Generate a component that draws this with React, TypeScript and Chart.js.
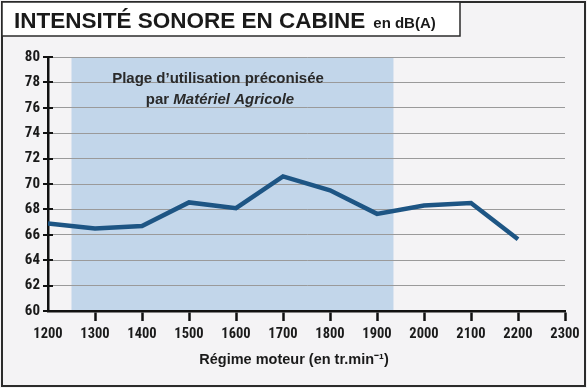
import React, { useEffect, useRef } from "react";
import { Chart, registerables } from "chart.js";

Chart.register(...registerables);

const rpm = [1200, 1300, 1400, 1500, 1600, 1700, 1800, 1900, 2000, 2100, 2200];
const dbA = [66.9, 66.5, 66.7, 68.55, 68.1, 70.6, 69.5, 67.65, 68.3, 68.5, 65.65];
const rangeStart = 1250;
const rangeEnd = 1935;
const titleMain = "INTENSITÉ SONORE EN CABINE";
const titleUnit = "en dB(A)";
const xTitle = "Régime moteur (en tr.min⁻¹)";
const noteLine1 = "Plage d’utilisation préconisée";
const noteLine2a = "par ";
const noteLine2b = "Matériel Agricole";

const W = 587;
const H = 388;
const FONT = "'Liberation Sans', 'Helvetica', Arial, sans-serif";
const NARROW = "'Roboto Condensed', 'DejaVu Sans Condensed', 'Liberation Sans', sans-serif";

const decor = {
  id: "decor",
  beforeDraw(chart: any) {
    const { ctx, chartArea, scales } = chart;
    ctx.save();
    ctx.fillStyle = "#f4f3f5";
    ctx.fillRect(0, 0, W, H);
    const x0 = scales.x.getPixelForValue(rangeStart);
    const x1 = scales.x.getPixelForValue(rangeEnd);
    ctx.fillStyle = "#c2d6ea";
    ctx.fillRect(x0, chartArea.top, x1 - x0, chartArea.bottom - chartArea.top);
    ctx.strokeStyle = "#2b2b2b";
    ctx.lineWidth = 2;
    ctx.strokeRect(2, 2, W - 4, H - 4);
    ctx.fillStyle = "#ffffff";
    ctx.fillRect(2, 2, 458, 34);
    ctx.lineWidth = 1.5;
    ctx.strokeRect(2, 2, 458, 34);
    ctx.fillStyle = "#1a1a1a";
    ctx.textBaseline = "alphabetic";
    ctx.textAlign = "left";
    ctx.font = "bold 22.5px " + FONT;
    ctx.fillText(titleMain, 14, 28);
    const tw = ctx.measureText(titleMain).width;
    ctx.font = "bold 15px " + FONT;
    ctx.fillText(titleUnit, 14 + tw + 8, 28);
    ctx.restore();
  },
  afterDraw(chart: any) {
    const { ctx, chartArea, scales } = chart;
    ctx.save();
    ctx.strokeStyle = "#111";
    ctx.lineWidth = 2;
    scales.y.ticks.forEach((t: any) => {
      const y = Math.round(scales.y.getPixelForValue(t.value));
      ctx.beginPath();
      ctx.moveTo(chartArea.left - 5, y);
      ctx.lineTo(chartArea.left + 5, y);
      ctx.stroke();
    });
    ctx.fillStyle = "#2a2a2a";
    ctx.textBaseline = "alphabetic";
    ctx.textAlign = "left";
    ctx.font = "bold 15px " + FONT;
    const cx = 218;
    const w1 = ctx.measureText(noteLine1).width;
    ctx.fillText(noteLine1, cx - w1 / 2, 83);
    const wa = ctx.measureText(noteLine2a).width;
    ctx.font = "italic bold 15px " + FONT;
    const wb = ctx.measureText(noteLine2b).width;
    const sx = cx - (wa + wb) / 2 + 2;
    ctx.font = "bold 15px " + FONT;
    ctx.fillText(noteLine2a, sx, 104);
    ctx.font = "italic bold 15px " + FONT;
    ctx.fillText(noteLine2b, sx + wa, 104);
    ctx.font = "bold 14.5px " + FONT;
    ctx.fillStyle = "#1a1a1a";
    ctx.textAlign = "center";
    ctx.fillText(xTitle, 294, 364);
    ctx.restore();
  },
};

export default function App() {
  const ref = useRef<HTMLCanvasElement | null>(null);
  useEffect(() => {
    document.body.style.margin = "0";
    const canvas = ref.current!;
    const chart = new Chart(canvas, {
      type: "line",
      data: {
        datasets: [
          {
            data: rpm.map((r, i) => ({ x: r, y: dbA[i] })),
            borderColor: "#1d5584",
            borderWidth: 4.5,
            pointRadius: 0,
            tension: 0,
            fill: false,
          },
        ],
      },
      options: {
        animation: false,
        responsive: false,
        devicePixelRatio: 1,
        layout: { padding: { top: 57, right: 22, left: 0, bottom: 0 } },
        plugins: { legend: { display: false }, tooltip: { enabled: false } },
        scales: {
          x: {
            type: "linear",
            min: 1200,
            max: 2300,
            afterFit: (s: any) => {
              s.height = 77;
            },
            ticks: {
              stepSize: 100,
              color: "#1a1a1a",
              font: { family: NARROW, size: 14.5, weight: "bold" },
              padding: 5,
              maxRotation: 0,
              callback: (v: any) => String(v),
            },
            grid: {
              drawOnChartArea: false,
              drawTicks: true,
              tickLength: 10,
              tickWidth: 2.5,
              tickColor: (c: any) => (c.tick && c.tick.value === 1200 ? "rgba(0,0,0,0)" : "#111"),
            },
            border: { display: true, color: "#111", width: 2.5 },
          },
          y: {
            min: 60,
            max: 80,
            afterFit: (s: any) => {
              s.width = 48;
            },
            ticks: {
              stepSize: 2,
              color: "#1a1a1a",
              font: { family: NARROW, size: 15, weight: "bold" },
              padding: 8,
            },
            grid: {
              drawTicks: false,
              color: (c: any) => (c.tick && c.tick.value === 60 ? "rgba(0,0,0,0)" : "#9a9a9a"),
              lineWidth: 1,
            },
            border: { display: true, color: "#111", width: 2.5 },
          },
        },
      },
      plugins: [decor],
    });
    return () => chart.destroy();
  }, []);
  return (
    <div style={{ position: "absolute", left: 0, top: 0, width: W, height: H }}>
      <canvas ref={ref} width={W} height={H} style={{ width: W, height: H, display: "block" }} />
    </div>
  );
}
